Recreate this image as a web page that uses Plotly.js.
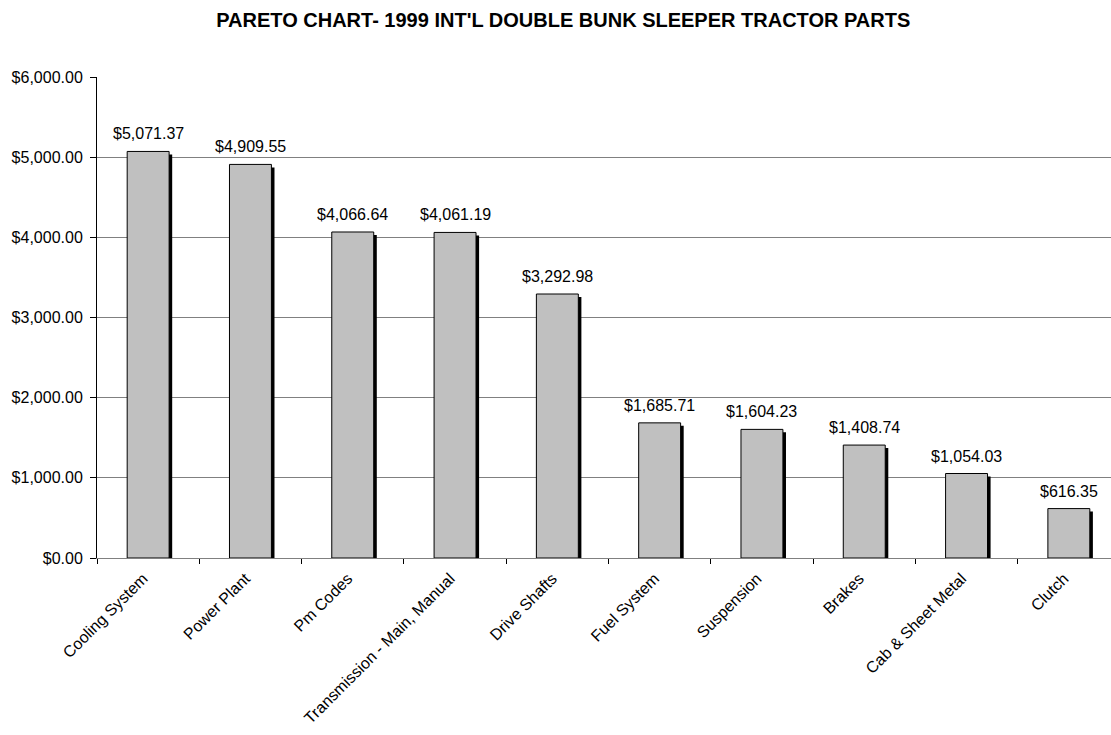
<!DOCTYPE html>
<html>
<head>
<meta charset="utf-8">
<script src="https://cdn.plot.ly/plotly-3.0.1.min.js"></script>
<style>
  html, body { margin: 0; padding: 0; background: #fff; overflow: hidden; }
  #chart { width: 1111px; height: 735px; }
</style>
</head>
<body>
<div id="chart"></div>
<script>
const categories = [
  'Cooling System', 'Power Plant', 'Pm Codes', 'Transmission - Main, Manual',
  'Drive Shafts', 'Fuel System', 'Suspension', 'Brakes', 'Cab & Sheet Metal', 'Clutch'
];
const costs = [5071.37, 4909.55, 4066.64, 4061.19, 3292.98, 1685.71, 1604.23, 1408.74, 1054.03, 616.35];
const chartTitle = "PARETO CHART- 1999 INT'L DOUBLE BUNK SLEEPER TRACTOR PARTS";

const FONT = 'Arial, "Liberation Sans", sans-serif';
const barWidth = 0.41;
const shadowShift = 0.03;   // category units
const shadowDrop = 37;      // data units (~3px)

const shadow = {
  type: 'bar',
  x: categories,
  y: costs,
  base: costs.map(() => -shadowDrop),
  width: barWidth,
  offset: -barWidth / 2 + shadowShift,
  marker: { color: '#000000', line: { width: 0 } },
  hoverinfo: 'skip',
  showlegend: false
};

const bars = {
  type: 'bar',
  x: categories,
  y: costs,
  width: barWidth,
  offset: -barWidth / 2,
  marker: { color: '#C0C0C0', line: { color: '#000000', width: 1 } },
  showlegend: false
};

const fmt = v => '$' + v.toLocaleString('en-US', { minimumFractionDigits: 2, maximumFractionDigits: 2 });

const annotations = categories.map((c, i) => ({
  x: c, y: costs[i], xref: 'x', yref: 'y',
  text: fmt(costs[i]),
  showarrow: false, yanchor: 'bottom', yshift: 7,
  font: { family: FONT, size: 16, color: '#000' }
}));

const layout = {
  width: 1111, height: 735,
  margin: { l: 97, r: 0, t: 77, b: 177 },
  paper_bgcolor: '#fff', plot_bgcolor: '#fff',
  barmode: 'overlay',
  title: {
    text: '<b>' + chartTitle + '</b>',
    font: { family: FONT, size: 20, color: '#000' },
    x: 0.507, xanchor: 'center', y: 0.973, yanchor: 'middle'
  },
  font: { family: FONT, size: 16, color: '#000' },
  xaxis: {
    type: 'category',
    range: [-0.5, 9.412],
    showline: true, linecolor: '#808080', linewidth: 1,
    ticks: 'outside', tickson: 'boundaries', ticklen: 5, tickcolor: '#000', tickwidth: 1,
    tickangle: -45,
    ticklabelshift: -5, ticklabelstandoff: 4,
    tickfont: { family: FONT, size: 16, color: '#000' },
    showgrid: false, zeroline: false
  },
  yaxis: {
    range: [0, 6000], dtick: 1000, tick0: 0,
    tickformat: '$,.2f',
    showline: true, linecolor: '#000', linewidth: 1,
    ticks: 'outside', ticklen: 6, tickcolor: '#000',
    ticklabelstandoff: 4,
    tickfont: { family: FONT, size: 16, color: '#000' },
    showgrid: true, gridcolor: '#808080', gridwidth: 1,
    zeroline: false
  },
  annotations: annotations
};

Plotly.newPlot('chart', [shadow, bars], layout, { staticPlot: true, displayModeBar: false });
</script>
</body>
</html>
